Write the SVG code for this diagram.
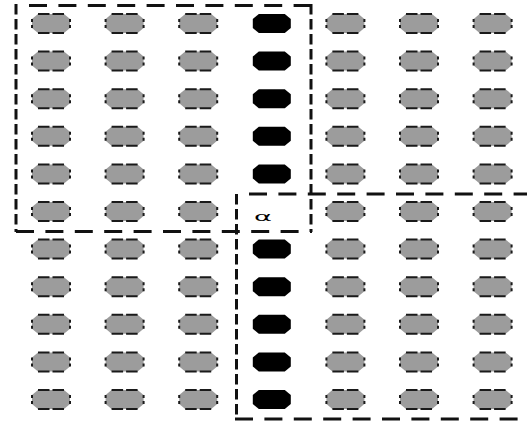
<svg xmlns="http://www.w3.org/2000/svg" xmlns:xlink="http://www.w3.org/1999/xlink" width="527" height="422" viewBox="0 0 527 422">
<style>
.h{stroke:#111;stroke-width:3;stroke-dasharray:18 11.4;fill:none}
.v{stroke:#111;stroke-width:3;stroke-dasharray:10.5 4.5;fill:none}
.gf{fill:#9c9c9c}
.gs{fill:none;stroke:#1a1a1a;stroke-width:2}
.bk{fill:#000}
.lbl{font-family:"DejaVu Sans","Liberation Sans",sans-serif;font-size:13px;fill:#000}
</style>
<defs>
<g id="gray">
<polygon class="gf" points="-13,-9.5 13,-9.5 19,-4.5 19,4.5 13,9.5 -13,9.5 -19,4.5 -19,-4.5"/>
<path class="gs" d="M-13,-9.5H-1.5M1.5,-9.5H13M-13,9.5H-1.5M1.5,9.5H13M-19,-4.5V-1.5M-19,1.5V4.5M19,-4.5V-1.5M19,1.5V4.5"/>
</g>
<polygon id="black" class="bk" points="-13,-9.5 13,-9.5 19,-4.5 19,4.5 13,9.5 -13,9.5 -19,4.5 -19,-4.5"/>
</defs>
<rect width="527" height="422" fill="#fff"/>
<g id="regions">
<g id="region1">
<line class="h" x1="29" y1="5.5" x2="312" y2="5.5"/>
<line class="h" x1="16" y1="231.5" x2="312" y2="231.5"/>
<line class="v" x1="16" y1="4" x2="16" y2="232"/>
<line class="v" x1="311" y1="4" x2="311" y2="232"/>
</g>
<g id="region2">
<line class="h" x1="249" y1="194" x2="530" y2="194"/>
<line class="h" x1="235" y1="419" x2="530" y2="419"/>
<line class="v" x1="236.5" y1="194" x2="236.5" y2="420"/>
</g>
</g>
<g id="nodes">
<g id="n1-1"><use xlink:href="#gray" x="51" y="23.5"/></g>
<g id="n1-2"><use xlink:href="#gray" x="124.6" y="23.5"/></g>
<g id="n1-3"><use xlink:href="#gray" x="198.2" y="23.5"/></g>
<g id="n1-4"><use xlink:href="#black" x="271.8" y="23.5"/></g>
<g id="n1-5"><use xlink:href="#gray" x="345.4" y="23.5"/></g>
<g id="n1-6"><use xlink:href="#gray" x="419" y="23.5"/></g>
<g id="n1-7"><use xlink:href="#gray" x="492.6" y="23.5"/></g>
<g id="n2-1"><use xlink:href="#gray" x="51" y="61.1"/></g>
<g id="n2-2"><use xlink:href="#gray" x="124.6" y="61.1"/></g>
<g id="n2-3"><use xlink:href="#gray" x="198.2" y="61.1"/></g>
<g id="n2-4"><use xlink:href="#black" x="271.8" y="61.1"/></g>
<g id="n2-5"><use xlink:href="#gray" x="345.4" y="61.1"/></g>
<g id="n2-6"><use xlink:href="#gray" x="419" y="61.1"/></g>
<g id="n2-7"><use xlink:href="#gray" x="492.6" y="61.1"/></g>
<g id="n3-1"><use xlink:href="#gray" x="51" y="98.7"/></g>
<g id="n3-2"><use xlink:href="#gray" x="124.6" y="98.7"/></g>
<g id="n3-3"><use xlink:href="#gray" x="198.2" y="98.7"/></g>
<g id="n3-4"><use xlink:href="#black" x="271.8" y="98.7"/></g>
<g id="n3-5"><use xlink:href="#gray" x="345.4" y="98.7"/></g>
<g id="n3-6"><use xlink:href="#gray" x="419" y="98.7"/></g>
<g id="n3-7"><use xlink:href="#gray" x="492.6" y="98.7"/></g>
<g id="n4-1"><use xlink:href="#gray" x="51" y="136.3"/></g>
<g id="n4-2"><use xlink:href="#gray" x="124.6" y="136.3"/></g>
<g id="n4-3"><use xlink:href="#gray" x="198.2" y="136.3"/></g>
<g id="n4-4"><use xlink:href="#black" x="271.8" y="136.3"/></g>
<g id="n4-5"><use xlink:href="#gray" x="345.4" y="136.3"/></g>
<g id="n4-6"><use xlink:href="#gray" x="419" y="136.3"/></g>
<g id="n4-7"><use xlink:href="#gray" x="492.6" y="136.3"/></g>
<g id="n5-1"><use xlink:href="#gray" x="51" y="173.9"/></g>
<g id="n5-2"><use xlink:href="#gray" x="124.6" y="173.9"/></g>
<g id="n5-3"><use xlink:href="#gray" x="198.2" y="173.9"/></g>
<g id="n5-4"><use xlink:href="#black" x="271.8" y="173.9"/></g>
<g id="n5-5"><use xlink:href="#gray" x="345.4" y="173.9"/></g>
<g id="n5-6"><use xlink:href="#gray" x="419" y="173.9"/></g>
<g id="n5-7"><use xlink:href="#gray" x="492.6" y="173.9"/></g>
<g id="n6-1"><use xlink:href="#gray" x="51" y="211.5"/></g>
<g id="n6-2"><use xlink:href="#gray" x="124.6" y="211.5"/></g>
<g id="n6-3"><use xlink:href="#gray" x="198.2" y="211.5"/></g>
<g id="alpha"><text class="lbl" x="254" y="220.5" textLength="18" lengthAdjust="spacingAndGlyphs">α</text></g>
<g id="n6-5"><use xlink:href="#gray" x="345.4" y="211.5"/></g>
<g id="n6-6"><use xlink:href="#gray" x="419" y="211.5"/></g>
<g id="n6-7"><use xlink:href="#gray" x="492.6" y="211.5"/></g>
<g id="n7-1"><use xlink:href="#gray" x="51" y="249.1"/></g>
<g id="n7-2"><use xlink:href="#gray" x="124.6" y="249.1"/></g>
<g id="n7-3"><use xlink:href="#gray" x="198.2" y="249.1"/></g>
<g id="n7-4"><use xlink:href="#black" x="271.8" y="249.1"/></g>
<g id="n7-5"><use xlink:href="#gray" x="345.4" y="249.1"/></g>
<g id="n7-6"><use xlink:href="#gray" x="419" y="249.1"/></g>
<g id="n7-7"><use xlink:href="#gray" x="492.6" y="249.1"/></g>
<g id="n8-1"><use xlink:href="#gray" x="51" y="286.7"/></g>
<g id="n8-2"><use xlink:href="#gray" x="124.6" y="286.7"/></g>
<g id="n8-3"><use xlink:href="#gray" x="198.2" y="286.7"/></g>
<g id="n8-4"><use xlink:href="#black" x="271.8" y="286.7"/></g>
<g id="n8-5"><use xlink:href="#gray" x="345.4" y="286.7"/></g>
<g id="n8-6"><use xlink:href="#gray" x="419" y="286.7"/></g>
<g id="n8-7"><use xlink:href="#gray" x="492.6" y="286.7"/></g>
<g id="n9-1"><use xlink:href="#gray" x="51" y="324.3"/></g>
<g id="n9-2"><use xlink:href="#gray" x="124.6" y="324.3"/></g>
<g id="n9-3"><use xlink:href="#gray" x="198.2" y="324.3"/></g>
<g id="n9-4"><use xlink:href="#black" x="271.8" y="324.3"/></g>
<g id="n9-5"><use xlink:href="#gray" x="345.4" y="324.3"/></g>
<g id="n9-6"><use xlink:href="#gray" x="419" y="324.3"/></g>
<g id="n9-7"><use xlink:href="#gray" x="492.6" y="324.3"/></g>
<g id="n10-1"><use xlink:href="#gray" x="51" y="361.9"/></g>
<g id="n10-2"><use xlink:href="#gray" x="124.6" y="361.9"/></g>
<g id="n10-3"><use xlink:href="#gray" x="198.2" y="361.9"/></g>
<g id="n10-4"><use xlink:href="#black" x="271.8" y="361.9"/></g>
<g id="n10-5"><use xlink:href="#gray" x="345.4" y="361.9"/></g>
<g id="n10-6"><use xlink:href="#gray" x="419" y="361.9"/></g>
<g id="n10-7"><use xlink:href="#gray" x="492.6" y="361.9"/></g>
<g id="n11-1"><use xlink:href="#gray" x="51" y="399.5"/></g>
<g id="n11-2"><use xlink:href="#gray" x="124.6" y="399.5"/></g>
<g id="n11-3"><use xlink:href="#gray" x="198.2" y="399.5"/></g>
<g id="n11-4"><use xlink:href="#black" x="271.8" y="399.5"/></g>
<g id="n11-5"><use xlink:href="#gray" x="345.4" y="399.5"/></g>
<g id="n11-6"><use xlink:href="#gray" x="419" y="399.5"/></g>
<g id="n11-7"><use xlink:href="#gray" x="492.6" y="399.5"/></g>
</g>
</svg>
